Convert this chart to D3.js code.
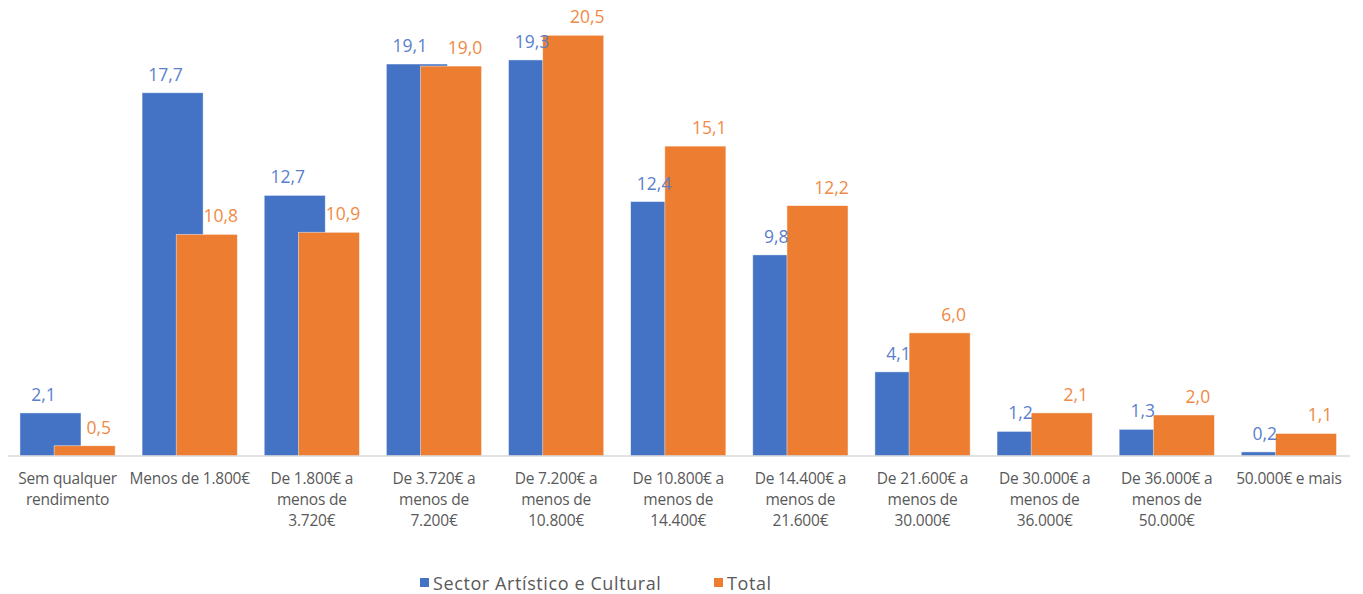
<!DOCTYPE html>
<html>
<head>
<meta charset="utf-8">
<script src="https://cdn.jsdelivr.net/npm/d3@7"></script>
<style>
  body { margin: 0; background: #fff; }
  svg { display: block; }
</style>
</head>
<body>
<div id="chart"></div>
<script>
// categorias (quebras de linha como no original)
var categorias = [
  "Sem qualquer\nrendimento",
  "Menos de 1.800€",
  "De 1.800€ a\nmenos de\n3.720€",
  "De 3.720€ a\nmenos de\n7.200€",
  "De 7.200€ a\nmenos de\n10.800€",
  "De 10.800€ a\nmenos de\n14.400€",
  "De 14.400€ a\nmenos de\n21.600€",
  "De 21.600€ a\nmenos de\n30.000€",
  "De 30.000€ a\nmenos de\n36.000€",
  "De 36.000€ a\nmenos de\n50.000€",
  "50.000€ e mais"
];
var series = ["Sector Artístico e Cultural", "Total"];
var sector = [2.1, 17.7, 12.7, 19.1, 19.3, 12.4, 9.8, 4.1, 1.2, 1.3, 0.2];
var total  = [0.5, 10.8, 10.9, 19.0, 20.5, 15.1, 12.2, 6.0, 2.1, 2.0, 1.1];
var cores = ["#4472C4", "#ED7D31"];

var W = 1363, H = 594;
var svg = d3.select("#chart").append("svg").attr("width", W).attr("height", H);

var x = d3.scaleBand().domain(categorias).range([6.5, 1350])
  .paddingInner(0.22).paddingOuter(0.11);
var y = d3.scaleLinear().domain([0, 22]).range([456, 4.5]);

// sobreposição das barras tipo excel
var ov = 0.44;
var bw = x.bandwidth() / (2 - ov);
var labelShift = [-7, 14];

var dados = [sector, total];
dados.forEach(function(vals, s) {
  var g = svg.append("g");
  g.selectAll("rect").data(vals).join("rect")
    .attr("x", (d, i) => x(categorias[i]) + s * (1 - ov) * bw)
    .attr("y", d => y(d))
    .attr("width", bw)
    .attr("height", d => y(0) - y(d))
    .attr("fill", cores[s])
    .attr("stroke", "#fff")
    .attr("stroke-opacity", 0.6)
    .attr("stroke-width", 0.8);
});
dados.forEach(function(vals, s) {
  svg.append("g").selectAll("text").data(vals).join("text")
    .attr("x", (d, i) => x(categorias[i]) + s * (1 - ov) * bw + bw / 2 + labelShift[s])
    .attr("y", d => y(d) - 12)
    .attr("text-anchor", "middle")
    .attr("font-family", "Open Sans, sans-serif")
    .attr("font-size", 17.5)
    .attr("letter-spacing", 0)
    .attr("fill", s == 0 ? "#5B7FCC" : "#F08A45")
    .text(d => d.toFixed(1).replace(".", ","));
});

// eixo
var eixo = svg.append("g").attr("transform", "translate(0," + y(0) + ")")
  .call(d3.axisBottom(x).tickSize(0).tickFormat(""));
eixo.select(".domain").attr("stroke", "#D9D9D9").attr("stroke-width", 1.3)
  .attr("d", "M8,0H1350");

var lbl = svg.append("g").selectAll("text").data(categorias).join("text")
  .attr("text-anchor", "middle")
  .attr("font-family", "Open Sans, sans-serif")
  .attr("font-size", 15.5)
  .attr("letter-spacing", -0.2)
  .attr("fill", "#595959")
  .attr("transform", d => "translate(" + (x(d) + x.bandwidth() / 2) + ",484)");
lbl.selectAll("tspan").data(d => d.split("\n")).join("tspan")
  .attr("x", 0)
  .attr("dy", (d, i) => i ? 21 : 0)
  .text(d => d);

// legenda
var leg = svg.append("g").attr("font-family", "Open Sans, sans-serif")
  .attr("font-size", 18).attr("letter-spacing", 0.6).attr("fill", "#595959");
var legX = [420, 714];
series.forEach(function(n, s) {
  leg.append("rect").attr("x", legX[s]).attr("y", 578).attr("width", 9).attr("height", 9)
    .attr("fill", cores[s]);
  leg.append("text").attr("x", legX[s] + 13).attr("y", 589.5).text(n);
});
</script>
</body>
</html>
